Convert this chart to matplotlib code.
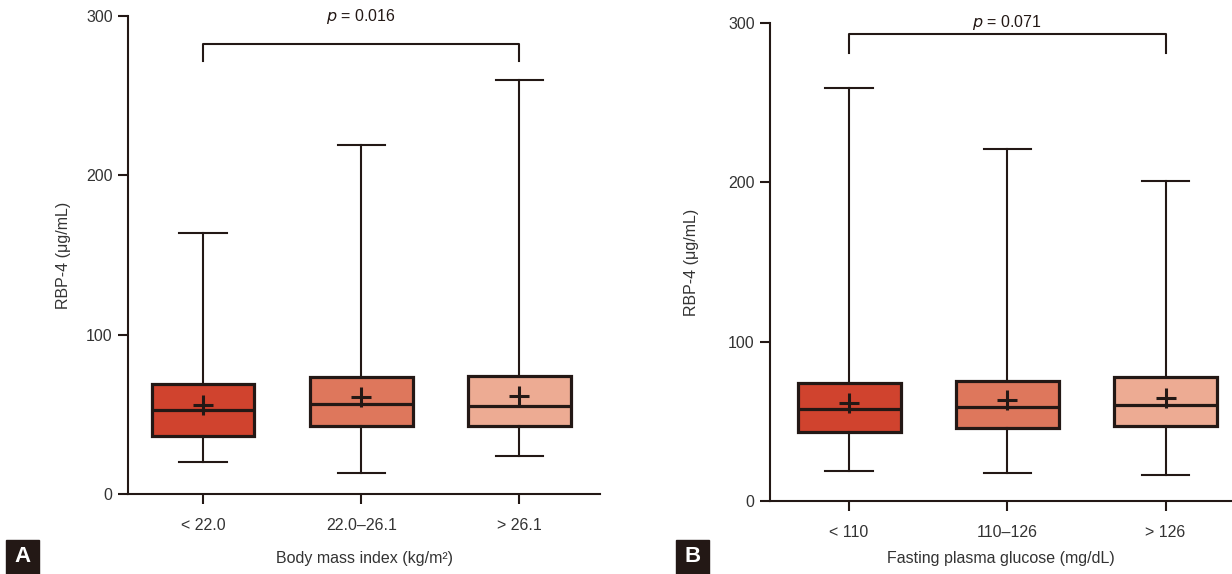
import matplotlib.pyplot as plt
from matplotlib.patches import Rectangle

plt.rcParams['font.family'] = ['Liberation Sans Narrow', 'Liberation Sans', 'DejaVu Sans']

# box statistics (RBP-4, ug/mL)
bmi_groups = ['< 22.0', '22.0\u201326.1', '> 26.1']
bmi_low = [20, 13, 24]
bmi_q1 = [36.5, 42.7, 42.7]
bmi_med = [52.7, 56.5, 55]
bmi_mean = [56, 61, 61.5]
bmi_q3 = [69, 73.4, 74]
bmi_high = [164, 219, 260]

fpg_groups = ['< 110', '110\u2013126', '> 126']
fpg_low = [18.8, 17.6, 16.3]
fpg_q1 = [43.3, 45.8, 47]
fpg_med = [57.7, 59, 60.3]
fpg_mean = [61.5, 63.4, 64.6]
fpg_q3 = [74, 75.3, 77.8]
fpg_high = [259, 221, 201]

p_values = ['0.016', '0.071']
colors = ['#d0432e', '#de775c', '#edab93']
dark = '#231815'


def make_stats(low, q1, med, mean, q3, high):
    stats = []
    for i in range(len(low)):
        stats.append(dict(whislo=low[i], q1=q1[i], med=med[i], mean=mean[i],
                          q3=q3[i], whishi=high[i], fliers=[]))
    return stats


def draw_panel(ax, stats, groups, pval, bracket_y, leg_y, xlabel, xlim, xpad, ypad):
    bp = ax.bxp(stats, positions=[1, 2, 3], widths=0.65, patch_artist=True,
                showmeans=True, showfliers=False,
                boxprops=dict(linewidth=2.3, edgecolor=dark),
                medianprops=dict(color=dark, linewidth=2.3),
                whiskerprops=dict(color=dark, linewidth=1.5),
                capprops=dict(color=dark, linewidth=1.5),
                meanprops=dict(marker='+', markersize=15, markeredgewidth=2.2,
                               markeredgecolor=dark))
    for patch, c in zip(bp['boxes'], colors):
        patch.set_facecolor(c)
    for cap in bp['caps']:
        x = cap.get_xdata()
        mid = (x[0] + x[1]) / 2
        cap.set_xdata([mid - 0.15, mid + 0.15])

    ax.plot([1, 1, 3, 3], [leg_y, bracket_y, bracket_y, leg_y], color=dark, lw=1.5,
            clip_on=False)
    ax.text(2, 300, r'$p$ = ' + pval, ha='center', va='center', fontsize=11.5,
            color=dark)

    ax.set_xlim(*xlim)
    ax.set_ylim(0, 300)
    ax.set_yticks([0, 100, 200, 300])
    ax.set_xticks([1, 2, 3])
    ax.set_xticklabels(groups)
    for s in ['top', 'right']:
        ax.spines[s].set_visible(False)
    for s in ['left', 'bottom']:
        ax.spines[s].set_linewidth(1.5)
        ax.spines[s].set_color(dark)
    ax.tick_params(axis='both', length=7, width=1.5, color=dark, labelsize=11.5,
                   labelcolor='#333333')
    ax.tick_params(axis='x', pad=10)
    ax.tick_params(axis='y', pad=4)
    ax.set_ylabel('RBP-4 (\u03bcg/mL)', fontsize=11.5, labelpad=ypad, color='#333333')
    ax.set_xlabel(xlabel, fontsize=11.5, labelpad=xpad, color='#333333')


fig = plt.figure(figsize=(12.32, 5.74), dpi=100)
ax1 = fig.add_axes([128 / 1232, 1 - 494 / 574, 472 / 1232, 478 / 574])
ax2 = fig.add_axes([770 / 1232, 1 - 501 / 574, 462 / 1232, 478 / 574])

draw_panel(ax1, make_stats(bmi_low, bmi_q1, bmi_med, bmi_mean, bmi_q3, bmi_high),
           bmi_groups, p_values[0], 282.4, 271.5, 'Body mass index (kg/m\u00b2)',
           (0.525, 3.51), 13, 11)
draw_panel(ax2, make_stats(fpg_low, fpg_q1, fpg_med, fpg_mean, fpg_q3, fpg_high),
           fpg_groups, p_values[1], 292.9, 281, 'Fasting plasma glucose (mg/dL)',
           (0.5, 3.42), 8, 21)

# panel letters
for letter, x0 in [('A', 6), ('B', 676)]:
    fig.patches.append(Rectangle((x0 / 1232, 0), 33 / 1232, 34 / 574,
                                 transform=fig.transFigure, color='#231815'))
    fig.text((x0 + 16.5) / 1232, 17 / 574, letter, color='white', fontsize=16,
             fontweight='bold', ha='center', va='center')

fig.savefig('out.png', dpi=100)
